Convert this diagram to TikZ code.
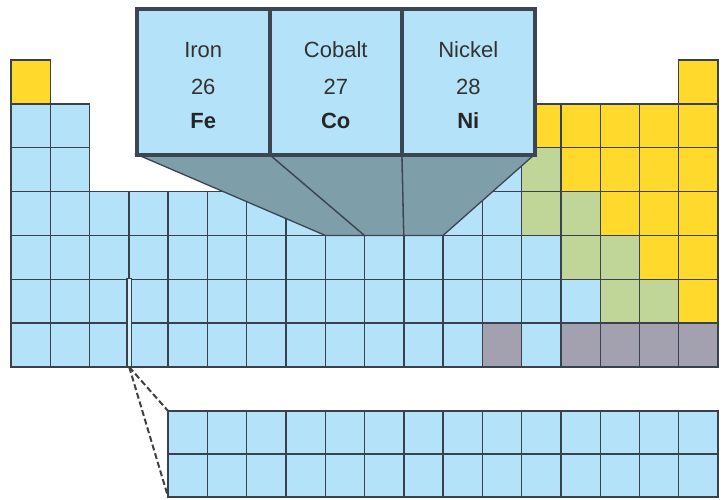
\documentclass[tikz,border=0pt]{standalone}
\usepackage{fontspec}
\setmainfont{Liberation Sans}
\usetikzlibrary{positioning,calc}

\definecolor{metalblue}{RGB}{180,226,249}
\definecolor{nonmetal}{RGB}{255,218,45}
\definecolor{metalloid}{RGB}{192,214,152}
\definecolor{unknowngray}{RGB}{163,160,176}
\definecolor{gridline}{RGB}{56,66,78}
\definecolor{boxline}{RGB}{60,70,82}
\definecolor{wedgefill}{RGB}{126,158,170}
\definecolor{textgray}{RGB}{50,50,50}

% one cell of the table: column, row, fill
\newcommand{\pcell}[3]{%
  \draw[cellline, fill=#3] ({11+(#1-1)*39.28},{60+(#2-1)*43.86}) rectangle ++(39.28,43.86);}

\begin{document}
\begin{tikzpicture}[x=1pt, y=-1pt,
    cellline/.style={draw=gridline, line width=1.4pt},
    bigcell/.style={draw=boxline, line width=4pt, fill=metalblue,
        minimum width=132.5pt, minimum height=145.5pt, inner sep=0pt},
    elname/.style={font=\fontsize{22}{26}\selectfont, text=textgray, anchor=base},
    elsym/.style={font=\fontsize{22}{26}\selectfont\bfseries, text=black!85, anchor=base},
    wedge/.style={draw=boxline, line width=1.3pt, fill=wedgefill},
    linkdash/.style={draw=black!75, line width=2pt, dash pattern=on 6pt off 3pt}]
    \useasboundingbox (0,0) rectangle (723,499);

    % Main table
    \pcell{1}{1}{nonmetal}
    \pcell{18}{1}{nonmetal}
    \foreach \r in {2,3} {
        \foreach \c in {1,2,13,14,15,16,17,18} {\pcell{\c}{\r}{metalblue}}
    }
    \foreach \r in {4,...,7} {
        \foreach \c in {1,...,18} {\pcell{\c}{\r}{metalblue}}
    }

    % Nonmetals
    \foreach \c/\r in {14/2,15/2,16/2,17/2,18/2,15/3,16/3,17/3,18/3,
                       16/4,17/4,18/4,17/5,18/5,18/6} {\pcell{\c}{\r}{nonmetal}}
    % Metalloids
    \foreach \c/\r in {13/2,14/3,14/4,15/4,15/5,16/5,16/6,17/6} {\pcell{\c}{\r}{metalloid}}
    % Unknown
    \foreach \c in {13,15,16,17,18} {\pcell{\c}{7}{unknowngray}}

    % Split where the f-block goes
    \draw[cellline, fill=metalblue!55!white] (126.8,278.6) rectangle (131.6,367);
    \coordinate (gap) at (129.2,367);

    % f-block
    \foreach \r in {0,1} {
        \foreach \c in {5,...,18} {
            \draw[cellline, fill=metalblue] ({11+(\c-1)*39.28},{411+\r*43}) rectangle ++(39.28,43);
        }
    }
    \coordinate (ftop) at (168.1,411);
    \coordinate (fbot) at (168.1,497);
    \draw[linkdash] (gap) -- (ftop);
    \draw[linkdash] (gap) -- (fbot);

    % Wedges down to Fe, Co, Ni
    \coordinate (t0) at (137,154.5);
    \coordinate (t1) at (269.5,154.5);
    \coordinate (t2) at (402,154.5);
    \coordinate (t3) at (534.5,154.5);
    \coordinate (b0) at (325.2,235.4);
    \coordinate (b1) at (364.5,235.4);
    \coordinate (b2) at (403.8,235.4);
    \coordinate (b3) at (443.1,235.4);
    \draw[wedge] (t0) -- (t1) -- (b1) -- (b0) -- cycle;
    \draw[wedge] (t1) -- (t2) -- (b2) -- (b1) -- cycle;
    \draw[wedge] (t2) -- (t3) -- (b3) -- (b2) -- cycle;

    % Enlarged cells
    \node[bigcell] (fe) at (203.25,81.75) {};
    \node[bigcell] (co) at (335.75,81.75) {};
    \node[bigcell] (ni) at (468.25,81.75) {};

    \node[elname] (fe-name) at (203.25,57) {Iron};
    \node[elname] (fe-num) at (203.25,94) {26};
    \node[elsym] (fe-sym) at (203.25,128) {Fe};

    \node[elname] (co-name) at (335.75,57) {Cobalt};
    \node[elname] (co-num) at (335.75,94) {27};
    \node[elsym] (co-sym) at (335.75,128) {Co};

    \node[elname] (ni-name) at (468.25,57) {Nickel};
    \node[elname] (ni-num) at (468.25,94) {28};
    \node[elsym] (ni-sym) at (468.25,128) {Ni};
\end{tikzpicture}
\end{document}
